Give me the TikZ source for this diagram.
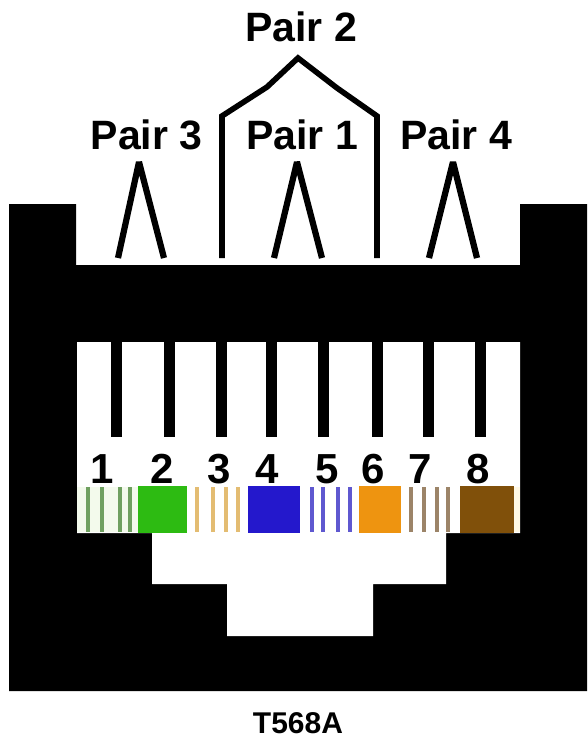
\documentclass[tikz,border=0pt]{standalone}
\usepackage{fontspec}
\setmainfont{Liberation Sans}
\definecolor{cgreen}{HTML}{2DBB12}
\definecolor{cblue}{HTML}{2418CC}
\definecolor{corange}{HTML}{EE9410}
\definecolor{cbrown}{HTML}{80500A}
\definecolor{lgreen}{HTML}{6FA060}
\definecolor{lblue}{HTML}{5F58D0}
\definecolor{lorange}{HTML}{E3BC72}
\definecolor{lbrown}{HTML}{9C8468}
\definecolor{tgreen}{HTML}{F3FAEC}
\definecolor{tcream}{HTML}{FFF8E4}
\tikzset{
  wire/.style={line width=11pt},
  fork/.style={line width=6.2pt, line join=bevel},
  lead/.style={line width=5.6pt, line join=miter},
  pairlabel/.style={font=\fontsize{41}{41}\selectfont\bfseries, inner sep=0pt},
  pinlabel/.style={font=\fontsize{42}{42}\selectfont\bfseries, inner sep=0pt},
  stripe/.style={line width=3.6pt},
}
\begin{document}
\begin{tikzpicture}[x=1pt,y=-1pt]
\useasboundingbox (0,0) rectangle (587,739);
\fill[white] (0,0) rectangle (587,739);
\fill[black] (9,204) -- (76,204) -- (76,265) -- (520,265) -- (520,204) -- (587,204) -- (587,691) -- (9,691) -- cycle;
\fill[white] (77,342) -- (520,342) -- (520,533) -- (446,533) -- (446,584) -- (373,584) -- (373,636) -- (227,636) -- (227,584) -- (152,584) -- (152,533) -- (77,533) -- cycle;
% lower wires
\foreach \x in {116,169,221,271,323,377,428,480}
  \fill[black] (\x-5.5,342) rectangle (\x+5.5,437);
% tints
\fill[tgreen] (77,487) rectangle (138,532);
\fill[tcream] (514,487) rectangle (520,532);
% stripes
\foreach \x in {88,102,120,130} \draw[stripe,lgreen] (\x,487) -- ++(0,45);
\foreach \x in {197,213,226,238} \draw[stripe,lorange] (\x,487) -- ++(0,45);
\foreach \x in {312,323,338,350} \draw[stripe,lblue] (\x,487) -- ++(0,45);
\foreach \x in {411,424,437,448} \draw[stripe,lbrown] (\x,487) -- ++(0,45);
% colour blocks
\fill[cgreen] (138,486) rectangle (187,533);
\fill[cblue] (248,486) rectangle (300,533);
\fill[corange] (359,486) rectangle (401,533);
\fill[cbrown] (460,486) rectangle (514,533);
% pin numbers
\node[pinlabel] (p1) at (102,469) {1};
\node[pinlabel] (p2) at (162,469) {2};
\node[pinlabel] (p3) at (219,469) {3};
\node[pinlabel] (p4) at (267,469) {4};
\node[pinlabel] (p5) at (327,469) {5};
\node[pinlabel] (p6) at (373,469) {6};
\node[pinlabel] (p7) at (420,469) {7};
\node[pinlabel] (p8) at (478,469) {8};
% pair labels
\node[pairlabel] (pair2) at (301,27) {Pair 2};
\node[pairlabel] (pair3) at (146.5,135) {Pair 3};
\node[pairlabel] (pair1) at (302,135) {Pair 1};
\node[pairlabel] (pair4) at (456,135) {Pair 4};
% forks
\coordinate (a3) at (139,162);
\coordinate (a1) at (297,162);
\coordinate (a4) at (453,162);
\draw[fork] (118,258) -- (a3) -- (164,258);
\draw[fork] (274,258) -- (a1) -- (322,258);
\draw[fork] (429,258) -- (a4) -- (477,258);
\draw[lead] (222,258) -- (222,116) -- (267,87) -- (298,58) -- (337,88) -- (377,116) -- (377,258);
% caption
\node[font=\fontsize{30}{30}\selectfont\bfseries, inner sep=0pt] (cap) at (298,723) {T568A};
\end{tikzpicture}
\end{document}
